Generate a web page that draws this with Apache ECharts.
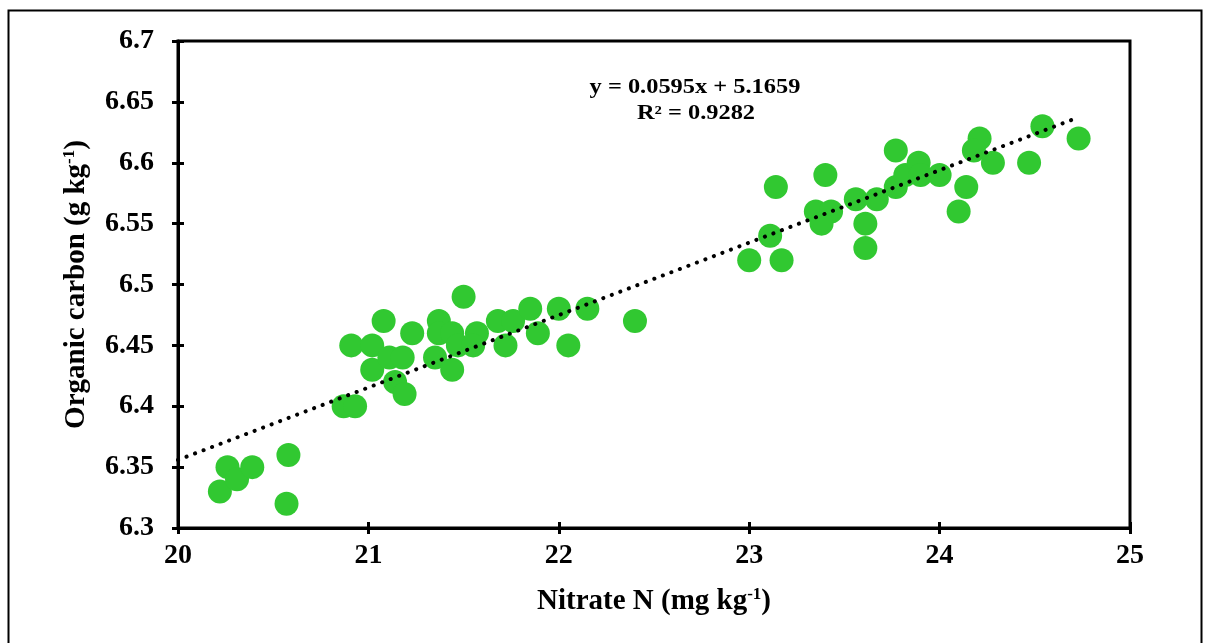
<!DOCTYPE html>
<html>
<head>
<meta charset="utf-8">
<script src="https://cdn.jsdelivr.net/npm/echarts@6/dist/echarts.min.js"></script>
<style>
html, body { margin: 0; padding: 0; background: #fff; }
#main { width: 1206px; height: 643px; }
</style>
</head>
<body>
<div id="main"></div>
<script>
// nitrate N (mg/kg) vs organic carbon (g/kg)
var nitrate = [
  20.22, 20.26, 20.31, 20.39, 20.58, 20.57,
  20.87, 20.93, 20.91, 21.02, 21.02, 21.08, 21.11, 21.18, 21.14, 21.19, 21.23,
  21.37, 21.37, 21.44, 21.35, 21.44, 21.50, 21.47, 21.57, 21.55,
  21.68, 21.76, 21.72, 21.85, 21.89, 22.00, 22.05, 22.15, 22.40,
  23.00, 23.17, 23.11, 23.14, 23.40, 23.35, 23.43, 23.38, 23.56, 23.67,
  23.61, 23.61, 23.77, 23.77, 23.82, 23.89, 23.90, 24.00, 24.14, 24.10,
  24.21, 24.18, 24.28, 24.47, 24.54, 24.73
];
var carbon = [
  6.33, 6.35, 6.34, 6.35, 6.36, 6.32,
  6.40, 6.40, 6.45, 6.45, 6.43, 6.47, 6.44, 6.44, 6.42, 6.41, 6.46,
  6.47, 6.46, 6.46, 6.44, 6.43, 6.49, 6.45, 6.46, 6.45,
  6.47, 6.47, 6.45, 6.48, 6.46, 6.48, 6.45, 6.48, 6.47,
  6.52, 6.52, 6.54, 6.58, 6.59, 6.56, 6.56, 6.55, 6.57, 6.57,
  6.55, 6.53, 6.61, 6.58, 6.59, 6.60, 6.59, 6.59, 6.58, 6.56,
  6.62, 6.61, 6.60, 6.60, 6.63, 6.62
];
// fitted line printed on the chart
var slope = 0.0595;
var intercept = 5.1659;
var fitRange = [20, 24.73];
var eqLines = ['y = 0.0595x + 5.1659', 'R² = 0.9282'];

var points = [];
for (var i = 0; i < nitrate.length; i++) {
  points.push([nitrate[i], carbon[i]]);
}
var trend = fitRange.map(function (x) { return [x, slope * x + intercept]; });

var chart = echarts.init(document.getElementById('main'));
var font = 'Liberation Serif';

// superscript for the unit labels
var nameRich = {
  a: { fontFamily: font, fontWeight: 'bold', fontSize: 29, color: '#000' },
  s: { fontFamily: font, fontWeight: 'bold', fontSize: 17, color: '#000', verticalAlign: 'top', padding: [0, 0, 14, 0] }
};

var option = {
  backgroundColor: '#fff',
  animation: false,
  grid: {
    left: 178, right: 76, top: 41, bottom: 115,
    show: true, borderColor: '#000', borderWidth: 3, backgroundColor: 'transparent'
  },
  xAxis: [{
    type: 'value', min: 20, max: 25, interval: 1,
    splitLine: { show: false },
    axisLine: { lineStyle: { color: '#000', width: 3 } },
    axisTick: { length: 6, lineStyle: { color: '#000', width: 3 } },
    axisLabel: { color: '#000', fontFamily: font, fontWeight: 'bold', fontSize: 28, margin: 14 },
    name: '{a|Nitrate N (mg kg}{s|-1}{a|)}',
    nameLocation: 'middle', nameGap: 58,
    nameTextStyle: { rich: nameRich }
  }, {
    type: 'value', min: 20, max: 25, interval: 1, position: 'bottom',
    splitLine: { show: false }, axisLine: { show: false },
    axisTick: { inside: true, length: 6, lineStyle: { color: '#000', width: 3 } },
    axisLabel: { show: false }
  }],
  yAxis: [{
    type: 'value', min: 6.3, max: 6.7, interval: 0.05,
    splitLine: { show: false },
    axisLine: { lineStyle: { color: '#000', width: 3 } },
    axisTick: { length: 6, lineStyle: { color: '#000', width: 3 } },
    axisLabel: { color: '#000', fontFamily: font, fontWeight: 'bold', fontSize: 28, margin: 24 },
    name: '{a|Organic carbon (g kg}{s|-1}{a|)}',
    nameLocation: 'middle', nameGap: 86, nameRotate: 90,
    nameTextStyle: { rich: nameRich }
  }, {
    type: 'value', min: 6.3, max: 6.7, interval: 0.05, position: 'left',
    splitLine: { show: false }, axisLine: { show: false },
    axisTick: { inside: true, length: 6, lineStyle: { color: '#000', width: 3 } },
    axisLabel: { show: false }
  }],
  series: [{
    type: 'scatter',
    data: points,
    symbol: 'circle',
    symbolSize: 24,
    itemStyle: { color: '#31c831', opacity: 1 },
    z: 2
  }, {
    type: 'line',
    data: trend,
    symbol: 'none',
    lineStyle: { color: '#000', width: 4, type: [0.1, 9], cap: 'round' },
    z: 3
  }],
  graphic: [{
    type: 'rect', left: 6, top: 8, z: -1,
    shape: { width: 1193, height: 660 },
    style: { fill: 'none', stroke: '#000', lineWidth: 2 }
  }, {
    type: 'text', x: 695, y: 88, scaleX: 1.22,
    style: { text: eqLines[0], font: 'bold 20px "Liberation Serif"', fill: '#000', align: 'center', verticalAlign: 'middle' }
  }, {
    type: 'text', x: 696, y: 114, scaleX: 1.22,
    style: { text: eqLines[1], font: 'bold 20px "Liberation Serif"', fill: '#000', align: 'center', verticalAlign: 'middle' }
  }]
};

chart.setOption(option);
</script>
</body>
</html>
